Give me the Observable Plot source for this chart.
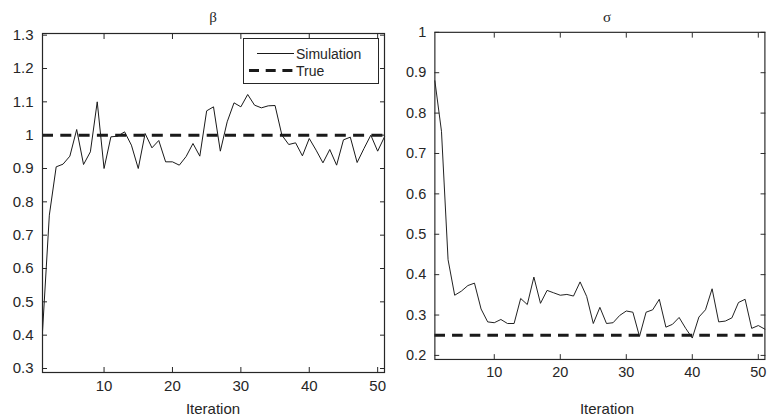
<!DOCTYPE html>
<html><head><meta charset="utf-8">
<script src="https://cdn.jsdelivr.net/npm/d3@7"></script>
<script src="https://cdn.jsdelivr.net/npm/@observablehq/plot@0.6"></script>
<style>
body{margin:0;background:#fff;overflow:hidden;}
#wrap{position:relative;width:776px;height:419px;overflow:hidden;font-family:"Liberation Sans",Arial,sans-serif;color:#262626;background:#fff;}
.panel{position:absolute;top:0;}
.ttl{position:absolute;font-family:"Liberation Serif","DejaVu Serif",serif;font-size:15px;transform:translate(-50%,-50%);white-space:nowrap;}
.xl{position:absolute;font-size:15px;transform:translate(-50%,-50%);white-space:nowrap;}
.legend{position:absolute;left:243px;top:38px;width:134px;height:44px;border:1px solid #262626;background:#fff;}
.legend svg{position:absolute;left:0;top:0;}
.legend span{position:absolute;font-size:14px;line-height:16px;transform:translateY(-50%);white-space:nowrap;}
</style></head><body><div id="wrap"></div>
<script>
const iterations = [1,2,3,4,5,6,7,8,9,10,11,12,13,14,15,16,17,18,19,20,21,22,23,24,25,26,27,28,29,30,31,32,33,34,35,36,37,38,39,40,41,42,43,44,45,46,47,48,49,50,51];
const betaSim = [0.41,0.76,0.905,0.913,0.937,1.017,0.912,0.95,1.10,0.90,0.995,0.997,1.01,0.97,0.90,1.005,0.962,0.984,0.92,0.92,0.91,0.936,0.975,0.937,1.073,1.085,0.952,1.04,1.097,1.085,1.122,1.09,1.082,1.088,1.089,1.0,0.972,0.977,0.938,0.99,0.955,0.917,0.957,0.91,0.986,0.994,0.918,0.96,1.0,0.952,0.995];
const sigmaSim = [0.88,0.755,0.437,0.349,0.359,0.373,0.379,0.315,0.283,0.281,0.289,0.279,0.279,0.341,0.326,0.394,0.329,0.361,0.355,0.349,0.351,0.347,0.382,0.346,0.279,0.319,0.279,0.281,0.299,0.31,0.307,0.247,0.307,0.313,0.339,0.27,0.277,0.294,0.267,0.243,0.295,0.313,0.365,0.283,0.285,0.293,0.331,0.339,0.267,0.274,0.265];
const betaTrue = 1.0;
const sigmaTrue = 0.25;
const xTicks = [10,20,30,40,50];
const betaTicks = [0.3,0.4,0.5,0.6,0.7,0.8,0.9,1.0,1.1,1.2,1.3];
const betaTickLabels = ["0.3","0.4","0.5","0.6","0.7","0.8","0.9","1","1.1","1.2","1.3"];
const sigmaTicks = [0.2,0.3,0.4,0.5,0.6,0.7,0.8,0.9,1.0];
const sigmaTickLabels = ["0.2","0.3","0.4","0.5","0.6","0.7","0.8","0.9","1"];
const panelTitles = ["β","σ"];
const xLabel = "Iteration";
const legendLabels = ["Simulation","True"];

const wrap = document.getElementById("wrap");
const ink = "#1a1a1a";

function makePanel({values, truth, yDomain, yTicks, yLabels, left, width, marginLeft, marginRight}) {
  const data = iterations.map((it, i) => ({iter: it, value: values[i]}));
  const chart = Plot.plot({
    width, height: 395,
    marginTop: 33, marginBottom: 23, marginLeft, marginRight,
    x: {domain: [1, 51]},
    y: {domain: yDomain},
    style: {fontFamily: "'Liberation Sans', Arial, sans-serif", fontSize: "15px", color: "#262626", background: "transparent", overflow: "visible"},
    marks: [
      Plot.ruleY([truth], {stroke: ink, strokeWidth: 3, strokeDasharray: "11,7.3"}),
      Plot.line(data, {x: "iter", y: "value", stroke: ink, strokeWidth: 1}),
      Plot.axisX(xTicks, {anchor: "bottom", tickSize: -5, tickPadding: 13, label: null, tickFormat: d => String(d)}),
      Plot.axisX(xTicks, {anchor: "top", tickSize: -5, label: null, tickFormat: () => ""}),
      Plot.axisY(yTicks, {anchor: "left", tickSize: -5, tickPadding: 14, label: null, tickFormat: d => yLabels[yTicks.indexOf(d)]}),
      Plot.axisY(yTicks, {anchor: "right", tickSize: -5, label: null, tickFormat: () => ""}),
      Plot.frame({stroke: "#262626", strokeWidth: 1.2})
    ]
  });
  const div = document.createElement("div");
  div.className = "panel";
  div.style.left = left + "px";
  div.appendChild(chart);
  wrap.appendChild(div);
}

makePanel({values: betaSim, truth: betaTrue, yDomain: [0.288, 1.305], yTicks: betaTicks, yLabels: betaTickLabels, left: 0, width: 390, marginLeft: 42, marginRight: 6});
makePanel({values: sigmaSim, truth: sigmaTrue, yDomain: [0.19, 1.0], yTicks: sigmaTicks, yLabels: sigmaTickLabels, left: 390, width: 400, marginLeft: 46, marginRight: 12});

function addText(cls, txt, x, y) {
  const d = document.createElement("div");
  d.className = cls; d.textContent = txt;
  d.style.left = x + "px"; d.style.top = y + "px";
  wrap.appendChild(d);
}
addText("ttl", panelTitles[0], 213, 17);
addText("ttl", panelTitles[1], 607, 17);
addText("xl", xLabel, 213, 408);
addText("xl", xLabel, 607, 408);

// legend
const lg = document.createElement("div");
lg.className = "legend";
lg.innerHTML = `<svg width="134" height="44">
  <line x1="13" x2="50" y1="14.5" y2="14.5" stroke="${ink}" stroke-width="1"/>
  <line x1="5" x2="49" y1="31.5" y2="31.5" stroke="${ink}" stroke-width="3" stroke-dasharray="10,6.7"/>
</svg>
<span style="left:52px;top:14.5px">${legendLabels[0]}</span>
<span style="left:52px;top:31.5px">${legendLabels[1]}</span>`;
wrap.appendChild(lg);
</script>
</body></html>
